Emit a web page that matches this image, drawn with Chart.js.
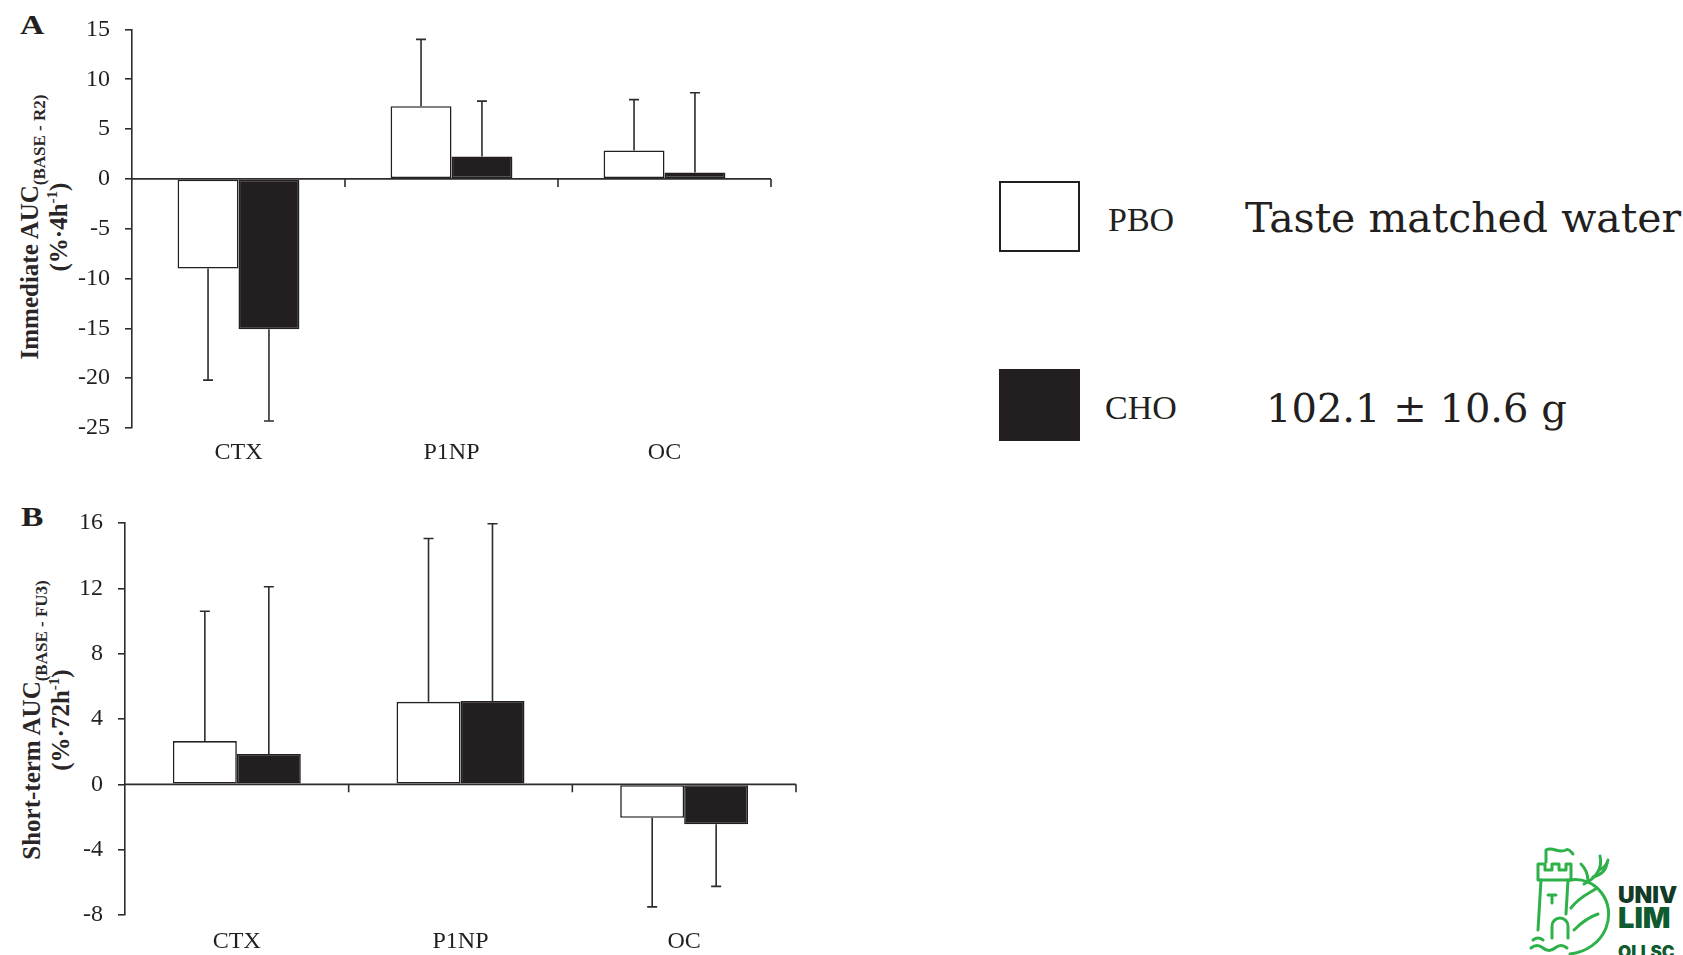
<!DOCTYPE html>
<html>
<head>
<meta charset="utf-8">
<title>Bone turnover AUC</title>
<script src="https://cdn.jsdelivr.net/npm/chart.js@4.4.1/dist/chart.umd.min.js"></script>
<style>
  html, body { margin: 0; padding: 0; background: #fff; }
  body { width: 1683px; height: 955px; position: relative; overflow: hidden;
         font-family: "Liberation Serif", serif; color: #231f20; }
  canvas { position: absolute; }
  #chartA { left: 0; top: 0; }
  #chartB { left: 0; top: 480px; }
  .panel { position: absolute; font: bold 28px/28px "Liberation Serif", serif;
           transform: scaleX(1.2); transform-origin: left top; }
  .ytitle { position: absolute; width: 400px; text-align: center; white-space: nowrap;
            font: bold 25px/29px "Liberation Serif", serif; color: #2a2627;
            transform: translate(-50%, -50%) rotate(-90deg); }
  .ytitle sub { font-size: 17px; line-height: 0; vertical-align: -7px; }
  .ytitle sup { font-size: 15px; line-height: 0; vertical-align: 10px; }
  .swatch { position: absolute; box-sizing: border-box; border: 2px solid #231f20; }
  .lgname { position: absolute; font: 34px/34px "Liberation Serif", serif; white-space: nowrap; }
  .lgnote { position: absolute; font: 40px/40px "DejaVu Serif", serif; white-space: nowrap; }
  #logo { position: absolute; left: 1500px; top: 780px; }
</style>
</head>
<body>

<div class="panel" style="left:20px; top:11px;">A</div>
<div class="panel" style="left:21px; top:503px;">B</div>

<div class="ytitle" style="left:44px; top:227px;">Immediate AUC<sub>(BASE - R2)</sub><br>(%·4h<sup>-1</sup>)</div>
<div class="ytitle" style="left:46px; top:720px;">Short-term AUC<sub>(BASE - FU3)</sub><br>(%·72h<sup>-1</sup>)</div>

<canvas id="chartA" width="790" height="470"></canvas>
<canvas id="chartB" width="815" height="475"></canvas>

<div id="legend"></div>

<svg id="logo" width="183" height="175" viewBox="0 0 183 175">
  <g fill="none" stroke="#2fb14a" stroke-width="3" stroke-linecap="round" stroke-linejoin="round">
    <!-- flag -->
    <path d="M46,82 L46,70 C53,66 58,74 66,70 C69,68 71,72 73,74"/>
    <!-- battlements -->
    <path d="M38,100 L38,84 L45,84 L45,90 L52,90 L52,84 L59,84 L59,90 L66,90 L66,84 L71,84 L71,100 Z"/>
    <!-- tower -->
    <path d="M41,100 L38,150 M68,100 L66,134"/>
    <path d="M48,115 L56,115 M52,115 L52,123"/>
    <!-- door -->
    <path d="M52,158 L52,146 A8,8 0 0 1 68,146 L68,158"/>
    <!-- stag body ring -->
    <path d="M70,100 C96,96 116,122 106,148 C100,163 86,172 70,174"/>
    <path d="M71,128 C80,116 90,113 97,108"/>
    <path d="M74,150 C84,140 92,136 98,134"/>
    <!-- antlers -->
    <path d="M84,104 C96,98 103,88 100,76"/>
    <path d="M93,97 C101,95 106,90 107,83"/>
    <path d="M88,101 C88,94 85,88 81,84"/>
    <path d="M99,90 C104,88 107,85 108,80"/>
    <!-- water -->
    <path d="M31,168 Q37,163 43,168 T55,168 T67,168"/>
    <path d="M33,160 Q38,156 43,160"/>
  </g>
  <g font-family="Inter, 'Open Sans', sans-serif" font-weight="900" fill="#0f5a2e">
    <text x="118" y="123" font-size="23" fill="#123b27">UNIV</text>
    <text x="118" y="148" font-size="29">LIM</text>
    <text x="118" y="178" font-size="17">OLLSC</text>
  </g>
</svg>

<script>
// Biomarkers and treatment groups
const categories = ['CTX', 'P1NP', 'OC'];
const seriesNames = ['PBO', 'CHO'];
const seriesNotes = ['Taste matched water', '102.1 \u00b1 10.6 g'];

// A: immediate AUC (BASE - R2), %·4h-1 — group means and whisker end values
const pboImmediate = [-9.0, 7.3, 2.85];
const choImmediate = [-15.1, 2.25, 0.65];
const pboImmediateWhisker = [-20.2, 14.0, 7.95];
const choImmediateWhisker = [-24.3, 7.8, 8.65];
const ticksImmediate = [15, 10, 5, 0, -5, -10, -15, -20, -25];

// B: short-term AUC (BASE - FU3), %·72h-1
const pboShortTerm = [2.65, 5.05, -2.05];
const choShortTerm = [1.85, 5.1, -2.45];
const pboShortTermWhisker = [10.6, 15.05, -7.5];
const choShortTermWhisker = [12.1, 15.95, -6.25];
const ticksShortTerm = [16, 12, 8, 4, 0, -4, -8];

const INK = '#231f20';
const AXIS = '#2e2b2c';
const FONT = '"Liberation Serif", serif';

// Zero baseline with tick marks at the category boundaries
const zeroAxis = {
  id: 'zeroAxis',
  afterDatasetsDraw(chart) {
    const { ctx, chartArea, scales: { x, y } } = chart;
    const y0 = y.getPixelForValue(0);
    ctx.save();
    ctx.strokeStyle = AXIS;
    ctx.lineWidth = 1.6;
    ctx.beginPath();
    ctx.moveTo(chartArea.left, y0);
    ctx.lineTo(chartArea.right, y0);
    for (let i = 0; i < chart.data.labels.length; i++) {
      const bx = x.getPixelForValue(i + 0.5);
      ctx.moveTo(bx, y0);
      ctx.lineTo(bx, y0 + 8);
    }
    ctx.stroke();
    ctx.restore();
  }
};

// One-sided error whiskers, from the bar end to the whisker value
const whiskers = {
  id: 'whiskers',
  afterDatasetsDraw(chart) {
    const { ctx, scales: { y } } = chart;
    ctx.save();
    ctx.strokeStyle = AXIS;
    ctx.lineWidth = 1.6;
    chart.data.datasets.forEach((ds, di) => {
      const meta = chart.getDatasetMeta(di);
      meta.data.forEach((bar, i) => {
        const yEnd = y.getPixelForValue(ds.whisker[i]);
        ctx.beginPath();
        ctx.moveTo(bar.x, bar.y);
        ctx.lineTo(bar.x, yEnd);
        ctx.moveTo(bar.x - 5, yEnd);
        ctx.lineTo(bar.x + 5, yEnd);
        ctx.stroke();
      });
    });
    ctx.restore();
  }
};

function makeChart(id, pbo, cho, pboW, choW, ticks, yWidth, xHeight, padTop, xPad) {
  return new Chart(document.getElementById(id), {
    type: 'bar',
    data: {
      labels: categories,
      datasets: [
        { label: seriesNames[0], data: pbo, whisker: pboW,
          backgroundColor: '#ffffff', borderColor: INK, borderWidth: 1.6, borderSkipped: false },
        { label: seriesNames[1], data: cho, whisker: choW,
          backgroundColor: INK, borderColor: INK, borderWidth: 1.6, borderSkipped: false }
      ]
    },
    options: {
      responsive: false,
      devicePixelRatio: 1,
      animation: false,
      events: [],
      layout: { padding: { top: padTop, right: 19, left: 0, bottom: 0 } },
      datasets: { bar: { categoryPercentage: 0.572, barPercentage: 1.0 } },
      plugins: { legend: { display: false }, tooltip: { enabled: false } },
      scales: {
        x: {
          grid: { display: false, drawTicks: false },
          border: { display: false },
          ticks: { color: INK, font: { family: FONT, size: 24 }, padding: xPad },
          afterFit(scale) { scale.height = xHeight; }
        },
        y: {
          min: Math.min(...ticks),
          max: Math.max(...ticks),
          afterBuildTicks(scale) { scale.ticks = ticks.map(v => ({ value: v })); },
          grid: { drawOnChartArea: false, drawTicks: true, tickLength: 7, color: AXIS, lineWidth: 1.6 },
          border: { display: true, color: AXIS, width: 1.6 },
          ticks: { color: INK, font: { family: FONT, size: 24 }, padding: 15 },
          afterFit(scale) { scale.width = yWidth; }
        }
      }
    },
    plugins: [zeroAxis, whiskers]
  });
}

const chartA = makeChart('chartA', pboImmediate, choImmediate, pboImmediateWhisker, choImmediateWhisker,
                         ticksImmediate, 132, 42, 25, 10);
makeChart('chartB', pboShortTerm, choShortTerm, pboShortTermWhisker, choShortTermWhisker,
          ticksShortTerm, 125, 40, 43, 12);

// Legend built from the datasets
const legend = document.getElementById('legend');
const rows = [
  { box: [999, 181, 81, 71], name: [1108, 203], note: [1245, 198], size: 41 },
  { box: [999, 369, 81, 72], name: [1105, 391], note: [1266, 388], size: 40 }
];
chartA.data.datasets.forEach((ds, i) => {
  const r = rows[i];
  const sw = document.createElement('div');
  sw.className = 'swatch';
  Object.assign(sw.style, { left: r.box[0] + 'px', top: r.box[1] + 'px', width: r.box[2] + 'px',
    height: r.box[3] + 'px', background: ds.backgroundColor, borderColor: ds.borderColor });
  legend.appendChild(sw);
  const nm = document.createElement('div');
  nm.className = 'lgname';
  nm.textContent = ds.label;
  Object.assign(nm.style, { left: r.name[0] + 'px', top: r.name[1] + 'px' });
  legend.appendChild(nm);
  const nt = document.createElement('div');
  nt.className = 'lgnote';
  nt.textContent = seriesNotes[i];
  Object.assign(nt.style, { left: r.note[0] + 'px', top: r.note[1] + 'px',
    fontSize: r.size + 'px', lineHeight: r.size + 'px' });
  legend.appendChild(nt);
});
</script>
</body>
</html>
